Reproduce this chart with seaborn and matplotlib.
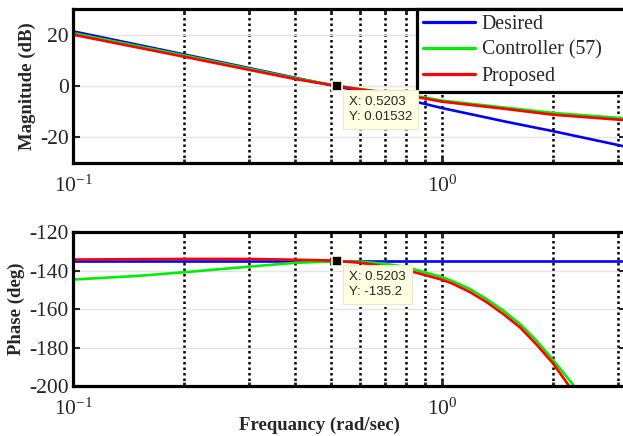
import numpy as np
import pandas as pd
import matplotlib
matplotlib.use("Agg")
import matplotlib.pyplot as plt
import seaborn as sns
from matplotlib.ticker import FixedLocator, LogLocator, NullFormatter

# ---------------- data ----------------
series_names = ["Desired", "Controller (57)", "Proposed"]
series_colors = ["#0000FF", "#00EE00", "#FF0000"]

freq_mag = [0.1, 0.2, 0.3, 0.4, 0.52, 0.6, 0.7, 0.8, 0.9, 1.0, 1.5, 2.0, 3.0, 3.2]
mag_desired = [21.3, 12.3, 7.0, 3.2, -0.2, -2.0, -4.0, -5.3, -7.0, -8.6, -14.0, -17.6, -23.0, -23.9]
mag_controller = [20.6, 11.9, 6.7, 3.0, 0.1, -1.2, -2.4, -3.4, -4.5, -5.7, -8.5, -10.5, -12.4, -12.7]
mag_proposed = [20.0, 11.4, 6.3, 2.7, 0.0, -1.3, -2.6, -3.7, -4.9, -6.1, -9.0, -11.2, -13.1, -13.4]

freq_ph_desired = [0.1, 3.2]
ph_desired = [-135.0, -135.0]
freq_ph_controller = [0.1, 0.15, 0.2, 0.3, 0.4, 0.5, 0.6, 0.7, 0.8, 0.87, 1.0,
                      1.07, 1.19, 1.32, 1.47, 1.63, 1.8, 2.0, 2.28]
ph_controller = [-144.7, -142.8, -140.9, -138.0, -136.0, -135.3, -135.4, -136.5,
                 -138.2, -140.2, -143.4, -145.6, -149.6, -154.8, -161.0, -168.0,
                 -176.3, -186.5, -200.0]
freq_ph_proposed = [0.1, 0.2, 0.3, 0.4, 0.5, 0.6, 0.7, 0.8, 0.87, 1.0, 1.07,
                    1.19, 1.32, 1.47, 1.63, 1.8, 2.0, 2.21]
ph_proposed = [-134.3, -134.0, -134.0, -134.4, -134.8, -136.0, -137.8, -139.8,
               -141.6, -144.8, -146.9, -151.2, -156.4, -162.8, -169.7, -178.3,
               -188.3, -200.0]

tip_x = 0.5203
tip_mag = 0.01532
tip_ph = -135.2

mag_ticks = [-20, 0, 20]
ph_ticks = [-200, -180, -160, -140, -120]

# ---------------- style ----------------
sns.set_style("white")
plt.rcParams["font.family"] = ["Liberation Serif", "DejaVu Serif"]
plt.rcParams["axes.unicode_minus"] = False
plt.rcParams["mathtext.fontset"] = "custom"
plt.rcParams["mathtext.rm"] = "Liberation Serif"
plt.rcParams["mathtext.it"] = "Liberation Serif:italic"
plt.rcParams["mathtext.bf"] = "Liberation Serif:bold"

W, H = 623, 436
fig = plt.figure(figsize=(W / 100, H / 100), dpi=100)

L = 73 / W
Wd = (626 - 73) / W
ax1 = fig.add_axes([L, 1 - 163 / H, Wd, 154 / H])
ax2 = fig.add_axes([L, 1 - 386 / H, Wd, 154 / H])

lw = 1.9
mag_data = [(freq_mag, mag_desired), (freq_mag, mag_controller), (freq_mag, mag_proposed)]
for (fx, fy), name, col in zip(mag_data, series_names, series_colors):
    sns.lineplot(x=fx, y=fy, ax=ax1, color=col, lw=lw, label=name, sort=True,
                 estimator=None)

ph_data = [(freq_ph_desired, ph_desired), (freq_ph_controller, ph_controller),
           (freq_ph_proposed, ph_proposed)]
for (fx, fy), name, col in zip(ph_data, series_names, series_colors):
    sns.lineplot(x=fx, y=fy, ax=ax2, color=col, lw=lw, sort=True, estimator=None,
                 legend=False)

for ax, yl, yt, lab, lx in [(ax1, (-30, 30), mag_ticks, "Magnitude (dB)", -0.067),
                            (ax2, (-200, -120), ph_ticks, "Phase (deg)", -0.087)]:
    ax.set_xscale("log")
    ax.set_xlim(0.1, 3.152)
    ax.set_ylim(*yl)
    ax.yaxis.set_major_locator(FixedLocator(yt))
    ax.xaxis.set_major_locator(LogLocator(base=10))
    ax.xaxis.set_minor_locator(LogLocator(base=10, subs=np.arange(2, 10)))
    ax.xaxis.set_minor_formatter(NullFormatter())
    for s in ax.spines.values():
        s.set_linewidth(2.3)
        s.set_color("black")
        s.set_visible(True)
    ax.tick_params(axis="y", which="both", direction="in", length=5, width=1.5,
                   left=True, right=True, labelsize=15.5, pad=3)
    ax.tick_params(axis="x", which="major", direction="in", length=4, width=2,
                   bottom=True, top=True, labelsize=15.5, pad=9)
    ax.tick_params(axis="x", which="minor", direction="in", length=3, width=2,
                   bottom=True, top=True)
    ax.grid(False)
    ax.xaxis.grid(True, which="both", color="black", lw=1.8,
                  ls=(0, (1.0, 1.2)))
    ax.yaxis.grid(True, which="major", color="#E4E4E4", lw=1.0, ls="-")
    ax.set_axisbelow(True)
    ax.set_ylabel(lab, fontsize=13.5, fontweight="bold")
    ax.yaxis.set_label_coords(lx, 0.5)
    ax.set_xlabel("")

ax2.set_xlabel("Frequancy (rad/sec)", fontsize=13.5, fontweight="bold")
ax2.xaxis.set_label_coords(0.445, -0.2)

# legend
leg = ax1.legend(loc="upper left",
                 bbox_to_anchor=((417 - 73) / 553, 0, (626 - 417) / 553, 1.0),
                 mode="expand", borderaxespad=0, fontsize=14.3,
                 handlelength=2.6, handletextpad=0.35, labelspacing=0.34,
                 borderpad=0.3, fancybox=False, framealpha=1,
                 edgecolor="black")
leg.get_frame().set_linewidth(2.3)
for h in leg.get_lines():
    h.set_linewidth(2.3)

# data tips
for ax, ty, txt in [(ax1, tip_mag, f"X: {tip_x}\nY: {tip_mag}"),
                    (ax2, tip_ph, f"X: {tip_x}\nY: {tip_ph}")]:
    ax.plot([tip_x], [ty], marker="s", ms=7.5, mfc="black", mec="#FFFFD8",
            mew=1.2, zorder=6)
    ax.annotate(txt, xy=(tip_x, ty), xytext=(12, -10), textcoords="offset pixels",
                ha="left", va="top", fontsize=9.5, family="Liberation Sans",
                linespacing=1.3, zorder=7,
                bbox=dict(boxstyle="square,pad=0.45", fc="#FFFFE1",
                          ec="#E8E8C8", lw=0.8))

fig.savefig("out.png", dpi=100)
